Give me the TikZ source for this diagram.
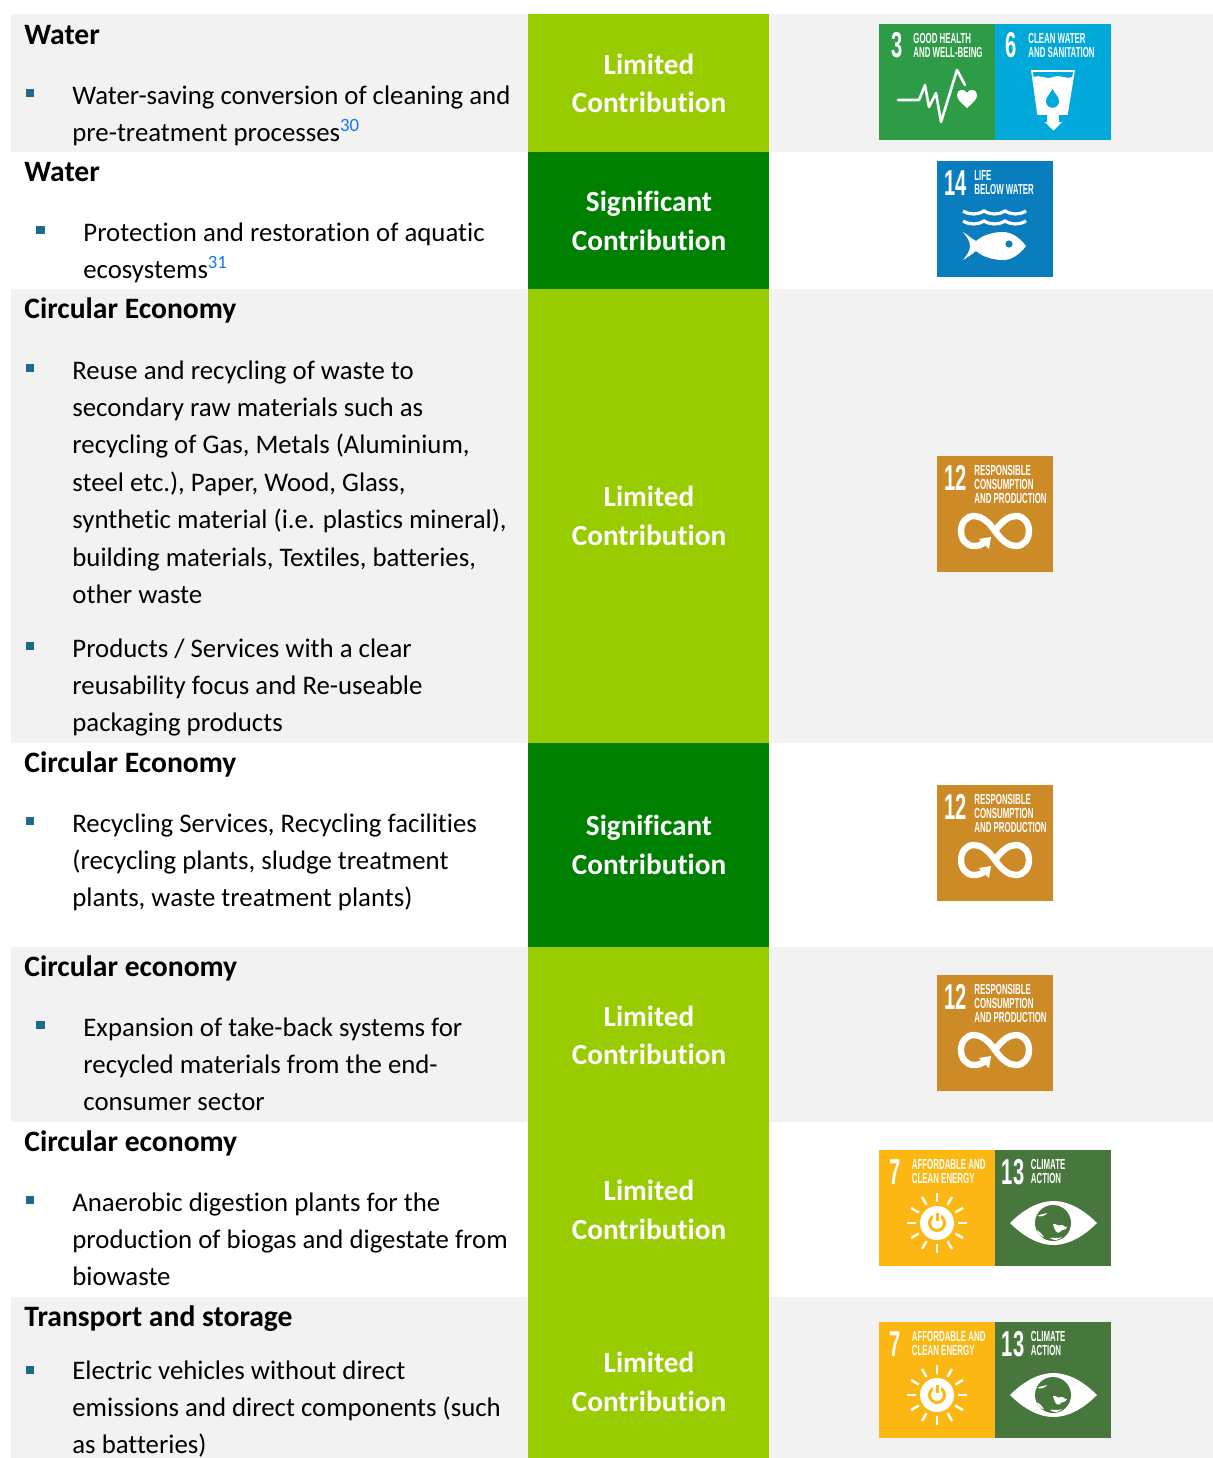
\documentclass[tikz,border=0pt]{standalone}
\usepackage{fontspec}
\setmainfont[Ligatures=NoCommon]{Carlito}
\newfontfamily\sdgf[FakeStretch=0.54]{Liberation Sans}
\newfontfamily\sdgnumf[FakeStretch=0.56]{Liberation Sans}
\newcommand{\bodyf}{\fontsize{13.4}{18.7}\selectfont}
\newcommand{\headf}{\fontsize{14.8}{18.7}\selectfont\bfseries}
\newcommand{\labf}{\fontsize{14.6}{19.2}\selectfont\bfseries}
\definecolor{rowgray}{HTML}{F2F2F2}
\definecolor{limeband}{HTML}{99CC00}
\definecolor{darkband}{HTML}{008000}
\definecolor{bullet}{HTML}{1F6A8A}
\definecolor{supblue}{HTML}{1B74F0}
\definecolor{sdgthree}{HTML}{2E9B47}
\definecolor{sdgsix}{HTML}{00A9DA}
\definecolor{sdgfourteen}{HTML}{0A7DBE}
\definecolor{sdgtwelve}{HTML}{CD8B27}
\definecolor{sdgseven}{HTML}{FDB713}
\definecolor{sdgthirteen}{HTML}{48773E}
\tikzset{
  x=0.5pt,y=-0.5pt,
  bodytext/.style={anchor=north west,inner sep=0pt,align=left,font=\bodyf,text=black},
  headtext/.style={anchor=base west,inner sep=0pt,font=\headf,text=black},
  lablabel/.style={inner sep=0pt,align=center,font=\labf,text=white},
  sdgnum/.style={inner sep=0pt,anchor=center,font=\sdgnumf\fontsize{18}{18}\selectfont\bfseries,text=white},
  sdgtxt/.style={inner sep=0pt,anchor=west,font=\sdgf\fontsize{7.3}{7.3}\selectfont\bfseries,text=white},
  whiteline/.style={draw=white,line join=round,line cap=round},
}
\newcommand{\headline}[4]{\node[headtext] (#1) at (#2,#3+1.5) {#4};}
\newcommand{\bulletblock}[6]{%
  \node[fill=bullet,inner sep=0pt,minimum size=4.2pt] (#1b) at (#2,#3) {};
  \node[bodytext] (#1) at (#4,#5-25.4) {\strut #6};}
\newcommand{\supnum}[1]{\textcolor{supblue}{\textsuperscript{#1}}}
\newcommand{\iconThree}[2]{\begin{scope}[shift={(#2)},name prefix=#1-]
  \fill[sdgthree] (0,0) rectangle (116,116);
  \node[sdgnum] (n) at (18,21) {3};
  \node[sdgtxt] (a) at (34,14.5) {GOOD HEALTH};
  \node[sdgtxt] (b) at (34,28) {AND WELL-BEING};
  \draw[whiteline,line width=1.3pt] (19,76) -- (40,76) -- (46,61) -- (50,83) -- (57,69) -- (62,98) -- (78,46) -- (86,61);
  \fill[white] (88,84) .. controls (81,78) and (78,75) .. (78,71) .. controls (78,65) and (86,64) .. (88,69) .. controls (90,64) and (98,65) .. (98,71) .. controls (98,75) and (95,78) .. (88,84) -- cycle;
\end{scope}}
\newcommand{\iconSix}[2]{\begin{scope}[shift={(#2)},name prefix=#1-]
  \fill[sdgsix] (0,0) rectangle (116,116);
  \node[sdgnum] (n) at (16.5,21) {6};
  \node[sdgtxt] (a) at (33,14.5) {CLEAN WATER};
  \node[sdgtxt] (b) at (33,28) {AND SANITATION};
  \draw[white,line width=0.8pt] (37,47) -- (79,47) -- (72,90) -- (43,90) -- cycle;
  \fill[white] (38.5,53) .. controls (45,50) and (50,56) .. (58,53) .. controls (66,50) and (71,56) .. (77.5,53) -- (72,90) -- (43,90) -- cycle;
  \fill[white] (52,90) rectangle (64,99);
  \fill[white] (50,98) -- (67,98) -- (58.5,106.5) -- cycle;
  \fill[sdgsix] (57.5,65) .. controls (60,70) and (64,73) .. (64,77) .. controls (64,86) and (51,86) .. (51,77) .. controls (51,73) and (55,70) .. (57.5,65) -- cycle;
\end{scope}}
\newcommand{\iconFourteen}[2]{\begin{scope}[shift={(#2)},name prefix=#1-]
  \fill[sdgfourteen] (0,0) rectangle (116,116);
  \node[sdgnum] (n) at (18.5,22) {14};
  \node[sdgtxt] (a) at (37,14.5) {LIFE};
  \node[sdgtxt] (b) at (37,28) {BELOW WATER};
  \foreach \yy in {50,60}{
    \draw[white,line width=1.6pt] (26,\yy) .. controls (33,\yy+4) and (40,\yy+4) .. (47,\yy) .. controls (54,\yy+4) and (61,\yy+4) .. (68,\yy) .. controls (75,\yy+4) and (82,\yy+4) .. (89,\yy);}
  \fill[white] (26,71) .. controls (31,74) and (35,78) .. (39,80) .. controls (46,74) and (56,71) .. (66,71) .. controls (75,71) and (83,77) .. (89,85) .. controls (83,93) and (75,99) .. (66,99) .. controls (56,99) and (46,96) .. (39,90) .. controls (35,93) and (31,96) .. (26,99) .. controls (30,94) and (33,90) .. (33,85) .. controls (33,80) and (30,76) .. (26,71) -- cycle;
  \fill[sdgfourteen] (72,83) circle[radius=3.6];
\end{scope}}
\newcommand{\iconTwelve}[2]{\begin{scope}[shift={(#2)},name prefix=#1-]
  \fill[sdgtwelve] (0,0) rectangle (116,116);
  \node[sdgnum] (n) at (18.5,22) {12};
  \node[sdgtxt] (a) at (37,14.5) {RESPONSIBLE};
  \node[sdgtxt] (b) at (37,28) {CONSUMPTION};
  \node[sdgtxt] (c) at (37,42) {AND PRODUCTION};
  \draw[white,line width=3.2pt] (47,87) .. controls (44,89) and (41,90) .. (37,90) .. controls (29,90) and (24,83) .. (24,75) .. controls (24,67) and (29,60) .. (37,60) .. controls (44,60) and (51,65) .. (58,75) .. controls (65,85) and (72,90) .. (79,90) .. controls (87,90) and (92,83) .. (92,75) .. controls (92,67) and (87,60) .. (79,60) .. controls (72,60) and (65,65) .. (58,75);
  \fill[white] (42,83) -- (54,81) -- (52,93) -- cycle;
\end{scope}}
\newcommand{\iconSeven}[2]{\begin{scope}[shift={(#2)},name prefix=#1-]
  \fill[sdgseven] (0,0) rectangle (116,116);
  \node[sdgnum] (n) at (16.5,22) {7};
  \node[sdgtxt] (a) at (32.5,14) {AFFORDABLE AND};
  \node[sdgtxt] (b) at (32.5,28) {CLEAN ENERGY};
  \begin{scope}[shift={(58,73)}]
    \foreach \aa in {0,30,...,330}{\draw[white,line width=1.2pt] (\aa:21) -- (\aa:30);}
    \fill[white] (0,0) circle[radius=17];
    \draw[sdgseven,line width=1.5pt] (0,0) circle[radius=7.5];
    \fill[white] (-4,-12) rectangle (4,-3);
    \draw[sdgseven,line width=1.5pt] (0,-10.5) -- (0,-2);
  \end{scope}
\end{scope}}
\newcommand{\iconThirteen}[2]{\begin{scope}[shift={(#2)},name prefix=#1-]
  \fill[sdgthirteen] (0,0) rectangle (116,116);
  \node[sdgnum] (n) at (18,22) {13};
  \node[sdgtxt] (a) at (35.5,14) {CLIMATE};
  \node[sdgtxt] (b) at (35.5,28) {ACTION};
  \fill[white] (15,73) .. controls (30,58) and (45,51) .. (58.5,51) .. controls (72,51) and (87,58) .. (102,73) .. controls (87,88) and (72,95) .. (58.5,95) .. controls (45,95) and (30,88) .. (15,73) -- cycle;
  \fill[sdgthirteen] (58,73) circle[radius=18];
  \fill[white] (42,66) .. controls (46,64) and (49,64) .. (52,63) .. controls (50,66) and (46,67) .. (42,66) -- cycle;
  \fill[white] (42,80) .. controls (44,81) and (46,83) .. (49,87) .. controls (46,87) and (43,84) .. (42,80) -- cycle;
  \fill[white] (58,74) .. controls (61,73) and (63,77) .. (66,75) .. controls (68,74) and (70,78) .. (72,77) .. controls (71,81) and (66,79) .. (65,82) .. controls (62,85) and (59,79) .. (58,74) -- cycle;
  \fill[white] (55,88) .. controls (59,87) and (63,89) .. (67,87) .. controls (64,90.5) and (58,91) .. (55,88) -- cycle;
\end{scope}}
\begin{document}
\begin{tikzpicture}
\useasboundingbox (0,0) rectangle (1213,1458);
\fill[white] (0,0) rectangle (1213,1458);
\fill[rowgray] (11,14) rectangle (1213,152);
\fill[rowgray] (11,289) rectangle (1213,743);
\fill[rowgray] (11,947) rectangle (1213,1122);
\fill[rowgray] (11,1297) rectangle (1213,1458);
\fill[limeband] (528,14) rectangle (769,152);
\fill[darkband] (528,152) rectangle (769,289);
\fill[limeband] (528,289) rectangle (769,743);
\fill[darkband] (528,743) rectangle (769,947);
\fill[limeband] (528,947) rectangle (769,1458);
\node[lablabel] (l1) at (649,83.5) {Limited\\Contribution};
\node[lablabel] (l2) at (649,221) {Significant\\Contribution};
\node[lablabel] (l3) at (649,516) {Limited\\Contribution};
\node[lablabel] (l4) at (649,845) {Significant\\Contribution};
\node[lablabel] (l5) at (649,1035.5) {Limited\\Contribution};
\node[lablabel] (l6) at (649,1210) {Limited\\Contribution};
\node[lablabel] (l7) at (649,1382) {Limited\\Contribution};
\headline{h1}{24}{43}{Water}
\bulletblock{t1}{30}{93}{72}{103}{Water-saving conversion of cleaning and\\pre-treatment processes\supnum{30}}
\headline{h2}{24}{180}{Water}
\bulletblock{t2}{40.5}{230}{83}{240}{Protection and restoration of aquatic\\ecosystems\supnum{31}}
\headline{h3}{24}{317}{Circular Economy}
\bulletblock{t3}{30}{368}{72}{378}{Reuse and recycling of waste to\\secondary raw materials such as\\recycling of Gas, Metals (Aluminium,\\steel etc.), Paper, Wood, Glass,\\synthetic material (i.e. plastics mineral),\\building materials, Textiles, batteries,\\other waste}
\bulletblock{t4}{30}{646}{72}{656}{Products / Services with a clear\\reusability focus and Re-useable\\packaging products}
\headline{h4}{24}{771}{Circular Economy}
\bulletblock{t5}{30}{821}{72}{831}{Recycling Services, Recycling facilities\\(recycling plants, sludge treatment\\plants, waste treatment plants)}
\headline{h5}{24}{975}{Circular economy}
\bulletblock{t6}{40.5}{1025}{83}{1035}{Expansion of take-back systems for\\recycled materials from the end-\\consumer sector}
\headline{h6}{24}{1150}{Circular economy}
\bulletblock{t7}{30}{1200}{72}{1210}{Anaerobic digestion plants for the\\production of biogas and digestate from\\biowaste}
\headline{h7}{24}{1325}{Transport and storage}
\bulletblock{t8}{30}{1370}{72}{1378}{Electric vehicles without direct\\emissions and direct components (such\\as batteries)}
\iconThree{i1}{879,24}
\iconSix{i2}{995,24}
\iconFourteen{i3}{937,161}
\iconTwelve{i4}{937,456}
\iconTwelve{i5}{937,785}
\iconTwelve{i6}{937,975}
\iconSeven{i7}{879,1150}
\iconThirteen{i8}{995,1150}
\iconSeven{i9}{879,1322}
\iconThirteen{i10}{995,1322}
\end{tikzpicture}
\end{document}
